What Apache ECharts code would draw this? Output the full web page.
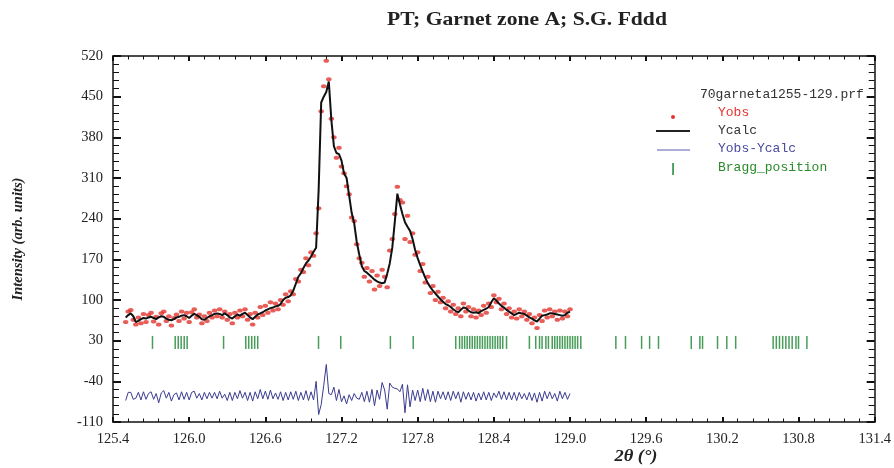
<!DOCTYPE html>
<html><head><meta charset="utf-8">
<script src="https://cdn.jsdelivr.net/npm/echarts@6/dist/echarts.min.js"></script>
<style>html,body{margin:0;padding:0;background:#fff}#c{width:894px;height:468px}</style>
</head><body><div id="c"></div><script>
// 2-theta grid (degrees)
const twoTheta = [
125.50,125.52,125.54,125.56,125.58,125.60,125.62,125.64,125.66,125.68,
125.70,125.72,125.74,125.76,125.78,125.80,125.82,125.84,125.86,125.88,
125.90,125.92,125.94,125.96,125.98,126.00,126.02,126.04,126.06,126.08,
126.10,126.12,126.14,126.16,126.18,126.20,126.22,126.24,126.26,126.28,
126.30,126.32,126.34,126.36,126.38,126.40,126.42,126.44,126.46,126.48,
126.50,126.52,126.54,126.56,126.58,126.60,126.62,126.64,126.66,126.68,
126.70,126.72,126.74,126.76,126.78,126.80,126.82,126.84,126.86,126.88,
126.90,126.92,126.94,126.96,126.98,127.00,127.02,127.04,127.06,127.08,
127.10,127.12,127.14,127.16,127.18,127.20,127.22,127.24,127.26,127.28,
127.30,127.32,127.34,127.36,127.38,127.40,127.42,127.44,127.46,127.48,
127.50,127.52,127.54,127.56,127.58,127.60,127.62,127.64,127.66,127.68,
127.70,127.72,127.74,127.76,127.78,127.80,127.82,127.84,127.86,127.88,
127.90,127.92,127.94,127.96,127.98,128.00,128.02,128.04,128.06,128.08,
128.10,128.12,128.14,128.16,128.18,128.20,128.22,128.24,128.26,128.28,
128.30,128.32,128.34,128.36,128.38,128.40,128.42,128.44,128.46,128.48,
128.50,128.52,128.54,128.56,128.58,128.60,128.62,128.64,128.66,128.68,
128.70,128.72,128.74,128.76,128.78,128.80,128.82,128.84,128.86,128.88,
128.90,128.92,128.94,128.96,128.98,129.00];
// observed intensity
const yObs = [
62,80,83,66,58,70,60,76,62,74,
78,63,71,58,77,80,64,72,56,69,
75,64,80,68,78,62,79,84,70,75,
60,72,64,78,70,82,72,84,70,80,
66,76,60,78,70,82,72,84,66,76,
58,78,70,88,74,90,78,96,82,94,
84,100,92,110,98,115,110,136,132,152,
148,172,160,182,176,215,258,425,468,512,
480,412,380,345,362,330,318,296,282,242,
236,196,172,164,140,155,132,150,118,142,
124,152,140,122,185,205,248,295,272,268,
205,245,200,215,178,182,150,162,130,140,
112,124,100,114,96,104,86,98,80,92,
76,86,72,94,80,88,72,84,70,82,
74,90,78,94,88,108,96,102,84,94,
76,86,70,80,68,84,72,80,66,76,
60,70,52,74,64,82,70,84,72,80,
66,82,68,80,72,84];
// calculated intensity
const yCalc = [
70,74,77,72,62,64,67,69,68,70,
71,69,67,70,72,71,68,66,65,67,
70,71,73,74,72,69,73,76,74,71,
67,66,69,72,74,76,77,76,74,77,
74,70,68,72,75,73,76,78,74,70,
67,71,75,77,79,82,84,86,87,89,
90,93,100,104,105,108,116,128,140,146,
155,163,168,175,183,190,290,440,450,458,
476,410,365,353,351,340,318,310,280,250,
232,200,178,158,150,147,143,139,135,132,
130,129,130,145,163,190,235,283,265,248,
234,226,219,205,186,172,160,149,138,129,
122,116,111,106,101,97,93,91,88,84,
81,79,83,87,86,82,79,78,79,77,
81,83,85,88,96,103,99,94,90,87,
83,80,77,74,76,78,77,76,73,70,
68,65,63,68,73,74,75,77,77,76,
75,74,73,74,78,80];
// Bragg reflection positions
const braggPositions = [
125.711,125.890,125.914,125.937,125.961,125.984,126.271,
126.446,126.469,126.493,126.516,126.540,127.019,127.194,127.585,127.765,
128.10,128.13,128.15,128.17,128.19,128.21,128.23,128.25,128.27,128.29,
128.31,128.33,128.35,128.37,128.39,128.41,128.43,128.45,128.47,128.50,
128.68,128.73,128.76,128.78,128.81,128.83,128.86,128.88,128.90,128.92,
128.94,128.96,128.98,129.00,129.02,129.04,129.06,129.085,
129.361,129.437,129.564,129.627,129.697,129.955,130.023,130.044,
130.162,130.235,130.305,
130.600,130.625,130.650,130.675,130.700,130.725,130.750,130.780,130.800,130.866];
const diffOffset = -65;   // difference curve baseline
const braggLevel = 27;    // row where Bragg ticks are drawn
const xMin = 125.4, xMax = 131.4, xStep = 0.6;
const yMin = -110, yMax = 520, yStep = 70;

const obsData = twoTheta.map((x, i) => [x, yObs[i]]);
const calcData = twoTheta.map((x, i) => [x, yCalc[i]]);
const diffData = twoTheta.map((x, i) => [x, yObs[i] - yCalc[i] + diffOffset]);
const braggData = braggPositions.map(p => [p, braggLevel]);

const serif = '"Liberation Serif","DejaVu Serif",serif';
const mono = '"Liberation Mono","DejaVu Sans Mono",monospace';

function mkX(pos, labels) {
  return {
    type: 'value', position: pos, min: xMin, max: xMax, interval: xStep,
    axisLine: {show: true, onZero: false, lineStyle: {color: '#111', width: 1.5}},
    axisTick: {show: true, inside: true, length: 5, lineStyle: {color: '#111', width: 2}},
    minorTick: {show: true, splitNumber: 5, length: 3.5, lineStyle: {color: '#111', width: 1}},
    splitLine: {show: false},
    axisLabel: {show: labels, margin: 10, fontFamily: serif, fontSize: 14.5, color: '#222',
      formatter: v => v.toFixed(1)}
  };
}
function mkY(pos, labels) {
  return {
    type: 'value', position: pos, min: yMin, max: yMax, interval: yStep,
    axisLine: {show: true, onZero: false, lineStyle: {color: '#111', width: 1.5}},
    axisTick: {show: true, inside: true, length: 8, lineStyle: {color: '#111', width: 2}},
    minorTick: {show: true, splitNumber: 5, length: 6, lineStyle: {color: '#111', width: 1}},
    splitLine: {show: false},
    axisLabel: {show: labels, margin: 10, fontFamily: serif, fontSize: 14.5, color: '#222'}
  };
}

const chart = echarts.init(document.getElementById('c'), null, {renderer: 'canvas'});
chart.setOption({
  animation: false,
  backgroundColor: '#fff',
  grid: {left: 113, right: 14, top: 56, bottom: 46, show: false},
  xAxis: [mkX('bottom', true), mkX('top', false)],
  yAxis: [
    Object.assign(mkY('left', true), {
      name: 'Intensity (arb. units)', nameLocation: 'middle', nameGap: 87, nameRotate: 90,
      nameTextStyle: {fontFamily: serif, fontStyle: 'italic', fontWeight: 'bold', fontSize: 14.5, color: '#222'}
    }),
    mkY('right', false)
  ],
  series: [
    {name: 'Yobs', type: 'scatter', data: obsData, symbol: 'circle', symbolSize: [5.5, 4],
      itemStyle: {color: '#e3342f'}, z: 2},
    {name: 'Ycalc', type: 'line', data: calcData, showSymbol: false, symbol: 'none',
      lineStyle: {color: '#111', width: 2}, z: 3},
    {name: 'Yobs-Ycalc', type: 'line', data: diffData, showSymbol: false, symbol: 'none',
      lineStyle: {color: '#3b3b90', width: 1}, z: 3},
    {name: 'Bragg_position', type: 'scatter', data: braggData, symbol: 'rect', symbolSize: [1.5, 13],
      itemStyle: {color: '#1a8530'}, z: 2}
  ],
  graphic: [
    {type: 'text', x: 527, y: 20, scaleX: 1.2,
      style: {text: 'PT; Garnet zone A; S.G. Fddd', font: 'bold 18px ' + serif, fill: '#222', align: 'center', verticalAlign: 'middle'}},
    {type: 'text', x: 700, y: 95, style: {text: '70garneta1255-129.prf', font: '13px ' + mono, fill: '#333', verticalAlign: 'middle'}},
    {type: 'circle', shape: {cx: 673, cy: 117, r: 2}, style: {fill: '#e3342f'}},
    {type: 'text', x: 718, y: 113, style: {text: 'Yobs', font: '13px ' + mono, fill: '#e3342f', verticalAlign: 'middle'}},
    {type: 'line', shape: {x1: 656, y1: 131, x2: 690, y2: 131}, style: {stroke: '#222', lineWidth: 2}},
    {type: 'text', x: 718, y: 131, style: {text: 'Ycalc', font: '13px ' + mono, fill: '#333', verticalAlign: 'middle'}},
    {type: 'line', shape: {x1: 657, y1: 150, x2: 690, y2: 150}, style: {stroke: '#5a5aaa', lineWidth: 1}},
    {type: 'text', x: 718, y: 149, style: {text: 'Yobs-Ycalc', font: '13px ' + mono, fill: '#4a4a9e', verticalAlign: 'middle'}},
    {type: 'rect', shape: {x: 672.3, y: 163, width: 1.5, height: 12}, style: {fill: '#1a8530'}},
    {type: 'text', x: 718, y: 168, style: {text: 'Bragg_position', font: '13px ' + mono, fill: '#2a8a2a', verticalAlign: 'middle'}},
    {type: 'text', x: 636, y: 457, scaleX: 1.15,
      style: {text: '2θ (°)', font: 'italic bold 16px ' + serif, fill: '#222', align: 'center', verticalAlign: 'middle'}}
  ]
});
</script></body></html>
